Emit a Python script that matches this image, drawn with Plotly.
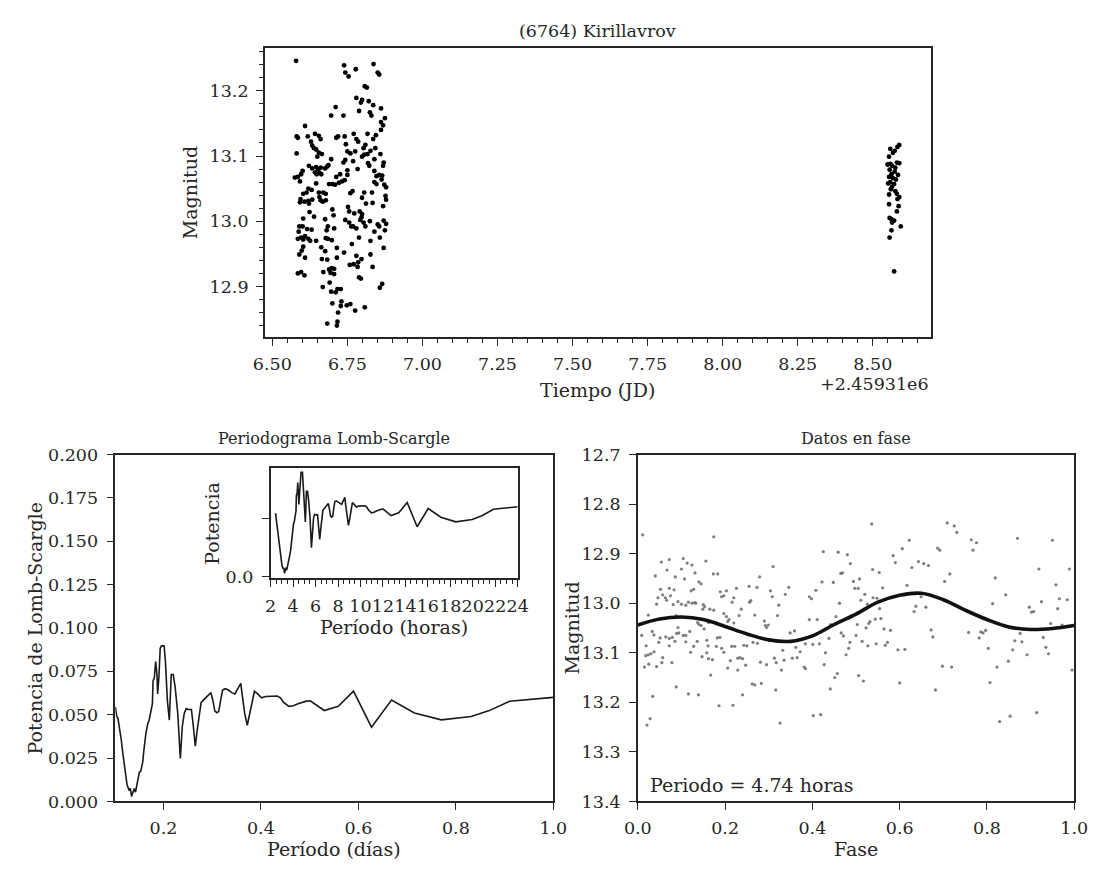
import plotly.graph_objects as go

W, H = 1109, 871
FONT = "DejaVu Serif"
INK = "#262626"

# ---------------- data: light curve (JD - 2459310) ----------------
JD_OFFSET_LABEL = "+2.45931e6"
t_obs = [6.579, 6.739, 6.837, 6.778, 6.743, 6.754, 6.851, 6.856, 6.808, 6.815,
         6.780, 6.799, 6.795, 6.821, 6.836, 6.789, 6.711, 6.862, 6.825, 6.830,
         6.696, 6.737, 6.875, 6.862, 6.869, 6.609, 6.862, 6.581, 6.585, 6.618,
         6.642, 6.655, 6.661, 6.629, 6.633, 6.713, 6.719, 6.741, 6.771, 6.780,
         6.786, 6.817, 6.845, 6.836, 6.745, 6.810, 6.804, 6.843, 6.581, 6.639,
         6.646, 6.655, 6.665, 6.650, 6.776, 6.750, 6.760, 6.806, 6.799, 6.817,
         6.827, 6.860, 6.696, 6.743, 6.737, 6.769, 6.840, 6.819, 6.823, 6.871,
         6.869, 6.622, 6.633, 6.646, 6.652, 6.661, 6.676, 6.683, 6.687, 6.657,
         6.648, 6.642, 6.663, 6.601, 6.596, 6.585, 6.575, 6.592, 6.713, 6.726,
         6.732, 6.722, 6.741, 6.750, 6.750, 6.784, 6.840, 6.847, 6.856, 6.866,
         6.864, 6.840, 6.847, 6.873, 6.879, 6.689, 6.700, 6.709, 6.646, 6.620,
         6.631, 6.614, 6.603, 6.594, 6.592, 6.607, 6.620, 6.633, 6.622, 6.655,
         6.670, 6.678, 6.657, 6.661, 6.668, 6.678, 6.760, 6.767, 6.806, 6.799,
         6.832, 6.812, 6.834, 6.877, 6.879, 6.869, 6.700, 6.704, 6.676, 6.603,
         6.624, 6.639, 6.752, 6.756, 6.743, 6.773, 6.791, 6.799, 6.797, 6.793,
         6.804, 6.825, 6.851, 6.856, 6.871, 6.879, 6.875, 6.840, 6.601, 6.590,
         6.616, 6.631, 6.588, 6.685, 6.681, 6.706, 6.756, 6.763, 6.769, 6.780,
         6.810, 6.585, 6.596, 6.603, 6.609, 6.620, 6.626, 6.646, 6.678, 6.685,
         6.698, 6.603, 6.598, 6.590, 6.609, 6.663, 6.676, 6.715, 6.765, 6.789,
         6.827, 6.858, 6.871, 6.665, 6.683, 6.715, 6.739, 6.780, 6.797, 6.758,
         6.771, 6.786, 6.784, 6.834, 6.827, 6.585, 6.596, 6.607, 6.670, 6.689,
         6.698, 6.706, 6.694, 6.706, 6.789, 6.795, 6.866, 6.858, 6.691, 6.668,
         6.696, 6.711, 6.717, 6.728, 6.700, 6.730, 6.728, 6.748, 6.760, 6.776,
         6.808, 6.719, 6.683, 6.717, 6.715,
         8.588, 8.582, 8.558, 8.573, 8.567, 8.554, 8.549, 8.558, 8.564, 8.580,
         8.588, 8.575, 8.556, 8.573, 8.562, 8.584, 8.554, 8.567, 8.577, 8.558,
         8.551, 8.571, 8.564, 8.560, 8.575, 8.580, 8.554, 8.588, 8.582, 8.554,
         8.586, 8.580, 8.556, 8.562, 8.571, 8.564, 8.593, 8.562, 8.556, 8.571]
m_obs = [13.246, 13.239, 13.241, 13.233, 13.228, 13.222, 13.228, 13.225, 13.207, 13.205,
         13.189, 13.186, 13.182, 13.184, 13.178, 13.169, 13.175, 13.173, 13.167, 13.162,
         13.162, 13.162, 13.158, 13.152, 13.147, 13.146, 13.140, 13.130, 13.128, 13.130,
         13.134, 13.131, 13.126, 13.122, 13.116, 13.128, 13.130, 13.130, 13.134, 13.126,
         13.122, 13.134, 13.132, 13.126, 13.118, 13.117, 13.112, 13.112, 13.104, 13.112,
         13.110, 13.105, 13.103, 13.099, 13.107, 13.107, 13.104, 13.102, 13.099, 13.103,
         13.108, 13.103, 13.095, 13.094, 13.090, 13.092, 13.095, 13.089, 13.085, 13.090,
         13.085, 13.085, 13.081, 13.083, 13.080, 13.082, 13.081, 13.084, 13.086, 13.074,
         13.072, 13.075, 13.072, 13.077, 13.072, 13.068, 13.067, 13.061, 13.068, 13.072,
         13.061, 13.059, 13.063, 13.071, 13.078, 13.080, 13.077, 13.069, 13.071, 13.070,
         13.064, 13.060, 13.057, 13.056, 13.052, 13.057, 13.057, 13.056, 13.058, 13.050,
         13.048, 13.044, 13.042, 13.034, 13.029, 13.030, 13.031, 13.033, 13.027, 13.044,
         13.044, 13.042, 13.037, 13.032, 13.030, 13.032, 13.043, 13.046, 13.044, 13.036,
         13.044, 13.027, 13.028, 13.039, 13.033, 13.023, 13.018, 13.009, 13.003, 13.004,
         13.014, 13.007, 13.022, 13.015, 13.002, 13.012, 13.015, 13.011, 13.006, 13.002,
         12.998, 13.000, 12.995, 12.992, 13.001, 12.996, 12.986, 12.984, 12.992, 12.992,
         12.988, 12.987, 12.984, 12.992, 12.986, 12.989, 12.998, 12.992, 12.992, 12.989,
         12.992, 12.973, 12.975, 12.972, 12.977, 12.973, 12.970, 12.970, 12.974, 12.973,
         12.971, 12.961, 12.955, 12.949, 12.944, 12.960, 12.954, 12.959, 12.965, 12.975,
         12.970, 12.975, 12.959, 12.942, 12.941, 12.944, 12.952, 12.947, 12.942, 12.933,
         12.934, 12.937, 12.930, 12.930, 12.949, 12.920, 12.922, 12.917, 12.922, 12.926,
         12.928, 12.927, 12.921, 12.919, 12.914, 12.912, 12.904, 12.898, 12.906, 12.899,
         12.892, 12.891, 12.896, 12.896, 12.874, 12.877, 12.870, 12.871, 12.873, 12.863,
         12.868, 12.860, 12.843, 12.846, 12.840,
         13.117, 13.114, 13.111, 13.108, 13.105, 13.099, 13.087, 13.088, 13.085, 13.090,
         13.089, 13.082, 13.079, 13.076, 13.072, 13.071, 13.068, 13.066, 13.064, 13.060,
         13.058, 13.057, 13.053, 13.049, 13.046, 13.042, 13.041, 13.037, 13.034, 13.026,
         13.023, 13.015, 13.005, 13.003, 13.001, 12.998, 12.992, 12.986, 12.975, 12.923]

# ---------------- data: Lomb-Scargle periodogram ----------------
period_days = [0.1014, 0.1041, 0.1067, 0.1094, 0.1134, 0.1174, 0.1214, 0.1254, 0.1294, 0.1321,
               0.1347, 0.1374, 0.1401, 0.1427, 0.1467, 0.1507, 0.1534, 0.1574, 0.1601, 0.1641,
               0.1681, 0.1707, 0.1734, 0.1774, 0.1787, 0.1814, 0.1841, 0.1867, 0.1881, 0.1907,
               0.1934, 0.1961, 0.2014, 0.2041, 0.2081, 0.2121, 0.2161, 0.2201, 0.2241, 0.2294,
               0.2347, 0.2387, 0.2427, 0.2467, 0.2507, 0.2574, 0.2614, 0.2654, 0.2694, 0.2734,
               0.2774, 0.2841, 0.2934, 0.2974, 0.3014, 0.3054, 0.3094, 0.3134, 0.3174, 0.3214,
               0.3267, 0.3334, 0.3401, 0.3467, 0.3521, 0.3587, 0.3614, 0.3667, 0.3721, 0.3774,
               0.3827, 0.3867, 0.3934, 0.4014, 0.4094, 0.4201, 0.4334, 0.4401, 0.4467, 0.4574,
               0.4667, 0.4761, 0.4867, 0.4934, 0.5013, 0.5300, 0.5587, 0.5900, 0.6269, 0.6680,
               0.7150, 0.7704, 0.8314, 0.8673, 0.9103, 1.0]
power = [0.0545, 0.0492, 0.0479, 0.0432, 0.0357, 0.0263, 0.0169, 0.0094, 0.0066, 0.0075,
         0.0028, 0.0056, 0.0075, 0.0053, 0.0113, 0.0169, 0.0173, 0.0225, 0.0300, 0.0394,
         0.0451, 0.0469, 0.0507, 0.0563, 0.0695, 0.0714, 0.0807, 0.0732, 0.0620, 0.0714,
         0.0883, 0.0897, 0.0897, 0.0807, 0.0582, 0.0469, 0.0732, 0.0732, 0.0657, 0.0507,
         0.0248, 0.0432, 0.0507, 0.0535, 0.0530, 0.0530, 0.0432, 0.0319, 0.0413, 0.0507,
         0.0571, 0.0590, 0.0620, 0.0627, 0.0582, 0.0522, 0.0511, 0.0518, 0.0582, 0.0642,
         0.0650, 0.0642, 0.0627, 0.0620, 0.0648, 0.0680, 0.0620, 0.0507, 0.0439, 0.0507,
         0.0582, 0.0635, 0.0620, 0.0597, 0.0605, 0.0608, 0.0608, 0.0597, 0.0571, 0.0548,
         0.0552, 0.0563, 0.0575, 0.0578, 0.0580, 0.0524, 0.0548, 0.0636, 0.0428, 0.0585,
         0.0510, 0.0470, 0.0490, 0.0522, 0.0578, 0.0600]
period_hours = [p * 24 for p in period_days]

# ---------------- data: phased light curve ----------------
phase_x = [0.174, 0.011, 0.072, 0.054, 0.104, 0.113, 0.124, 0.156, 0.067, 0.100,
           0.131, 0.040, 0.086, 0.107, 0.140, 0.145, 0.173, 0.183, 0.310, 0.279,
           0.425, 0.459, 0.480, 0.487, 0.465, 0.469, 0.422, 0.494, 0.497, 0.448,
           0.408, 0.393, 0.398, 0.346, 0.338, 0.304, 0.308, 0.273, 0.255, 0.226,
           0.203, 0.189, 0.192, 0.197, 0.220, 0.216, 0.237, 0.259, 0.256, 0.323,
           0.320, 0.268, 0.290, 0.292, 0.299, 0.295, 0.232, 0.197, 0.203, 0.209,
           0.206, 0.220, 0.052, 0.072, 0.083, 0.057, 0.063, 0.046, 0.043, 0.066,
           0.075, 0.081, 0.092, 0.100, 0.110, 0.116, 0.124, 0.130, 0.133, 0.122,
           0.128, 0.150, 0.153, 0.149, 0.165, 0.174, 0.024, 0.088, 0.092, 0.137,
           0.140, 0.145, 0.152, 0.162, 0.179, 0.462, 0.442, 0.454, 0.466, 0.471,
           0.486, 0.483, 0.477, 0.500, 0.393, 0.411, 0.438, 0.430, 0.427, 0.457,
           0.451, 0.441, 0.009, 0.033, 0.037, 0.051, 0.048, 0.064, 0.072, 0.079,
           0.085, 0.089, 0.094, 0.104, 0.110, 0.119, 0.019, 0.018, 0.024, 0.030,
           0.037, 0.057, 0.055, 0.043, 0.025, 0.015, 0.078, 0.072, 0.110, 0.121,
           0.128, 0.136, 0.147, 0.158, 0.161, 0.158, 0.162, 0.171, 0.180, 0.182,
           0.192, 0.197, 0.188, 0.215, 0.222, 0.229, 0.234, 0.212, 0.206, 0.229,
           0.243, 0.250, 0.240, 0.247, 0.264, 0.274, 0.281, 0.295, 0.313, 0.317,
           0.332, 0.335, 0.329, 0.349, 0.359, 0.362, 0.354, 0.365, 0.372, 0.381,
           0.384, 0.384, 0.401, 0.416, 0.167, 0.088, 0.116, 0.139, 0.034, 0.262,
           0.268, 0.283, 0.316, 0.240, 0.186, 0.218, 0.028, 0.021, 0.326, 0.402,
           0.419,
           0.536, 0.709, 0.725, 0.731, 0.622, 0.606, 0.585, 0.590, 0.643, 0.655,
           0.666, 0.628, 0.687, 0.692, 0.764, 0.776, 0.768, 0.870, 0.950, 0.538,
           0.553, 0.508, 0.505, 0.561, 0.617, 0.715, 0.703, 0.819, 0.843, 0.919,
           0.989, 0.958, 0.520, 0.511, 0.526, 0.539, 0.548, 0.554, 0.637, 0.649,
           0.660, 0.633, 0.813, 0.897, 0.925, 0.966, 0.984, 0.962, 0.902, 0.907,
           0.503, 0.532, 0.529, 0.544, 0.557, 0.523, 0.564, 0.579, 0.514, 0.527,
           0.546, 0.567, 0.572, 0.596, 0.612, 0.672, 0.676, 0.758, 0.782, 0.786,
           0.791, 0.797, 0.803, 0.864, 0.876, 0.880, 0.859, 0.892, 0.929, 0.935,
           0.941, 0.946, 0.972, 0.849, 0.823, 0.698, 0.719, 0.506, 0.517, 0.600,
           0.682, 0.807, 0.829, 0.853, 0.914, 0.995]
phase_mag = [12.866, 12.862, 12.912, 12.917, 12.910, 12.919, 12.923, 12.915, 12.933, 12.931,
             12.939, 12.945, 12.947, 12.951, 12.957, 12.961, 12.941, 12.941, 12.926, 12.947,
             12.896, 12.897, 12.902, 12.920, 12.940, 12.939, 12.957, 12.956, 12.970, 12.958,
             12.974, 12.987, 12.991, 12.968, 12.982, 12.975, 12.987, 12.968, 12.966, 12.970,
             12.975, 12.977, 12.987, 12.985, 12.989, 12.998, 13.012, 12.995, 12.998, 13.004,
             13.025, 13.024, 13.036, 13.045, 13.044, 13.049, 13.025, 13.021, 13.027, 13.033,
             13.037, 13.040, 12.972, 12.970, 12.973, 12.983, 12.989, 12.989, 13.002, 12.994,
             12.985, 13.003, 12.997, 13.002, 13.004, 12.998, 13.000, 12.999, 13.000, 12.975,
             12.972, 13.003, 13.007, 13.012, 13.012, 13.014, 13.024, 13.025, 13.049, 13.039,
             13.043, 13.045, 13.052, 13.039, 13.039, 13.000, 13.043, 13.027, 13.060, 13.066,
             13.079, 13.091, 13.104, 13.065, 13.033, 13.033, 13.071, 13.100, 13.124, 13.142,
             13.150, 13.173, 13.065, 13.057, 13.064, 13.070, 13.079, 13.068, 13.071, 13.069,
             13.077, 13.061, 13.060, 13.065, 13.065, 13.057, 13.086, 13.106, 13.104, 13.102,
             13.098, 13.110, 13.120, 13.128, 13.123, 13.129, 13.120, 13.086, 13.078, 13.099,
             13.087, 13.077, 13.108, 13.075, 13.086, 13.100, 13.112, 13.114, 13.087, 13.070,
             13.091, 13.099, 13.069, 13.087, 13.087, 13.111, 13.110, 13.116, 13.131, 13.135,
             13.085, 13.086, 13.112, 13.125, 13.079, 13.081, 13.119, 13.124, 13.111, 13.120,
             13.095, 13.115, 13.135, 13.060, 13.056, 13.089, 13.111, 13.110, 13.098, 13.129,
             13.132, 13.082, 13.083, 13.082, 13.145, 13.169, 13.183, 13.185, 13.188, 13.163,
             13.165, 13.162, 13.175, 13.185, 13.207, 13.206, 13.233, 13.246, 13.242, 13.227,
             13.225,
             12.840, 12.838, 12.844, 12.857, 12.873, 12.890, 12.904, 12.918, 12.916, 12.920,
             12.924, 12.928, 12.889, 12.893, 12.872, 12.878, 12.893, 12.869, 12.873, 12.932,
             12.938, 12.951, 12.970, 12.969, 12.964, 12.941, 12.956, 12.949, 12.983, 12.931,
             12.931, 12.963, 12.982, 12.994, 13.002, 12.989, 12.990, 13.011, 13.006, 12.987,
             13.008, 13.017, 13.001, 13.008, 12.997, 12.991, 12.993, 13.011, 13.018, 13.017,
             13.043, 13.037, 13.041, 13.032, 13.031, 13.050, 13.052, 13.055, 13.077, 13.086,
             13.082, 13.085, 13.079, 13.094, 13.093, 13.054, 13.068, 13.059, 13.070, 13.058,
             13.060, 13.055, 13.091, 13.076, 13.061, 13.078, 13.094, 13.104, 13.069, 13.089,
             13.102, 13.041, 13.044, 13.117, 13.129, 13.127, 13.129, 13.146, 13.157, 13.161,
             13.175, 13.160, 13.239, 13.228, 13.221, 13.135]

# fitted model curve
fit_phase = [0.00, 0.05, 0.10, 0.15, 0.20, 0.25, 0.30, 0.35, 0.40, 0.45, 0.50,
             0.55, 0.60, 0.65, 0.70, 0.75, 0.80, 0.85, 0.90, 0.95, 1.00]
fit_mag = [13.044, 13.032, 13.028, 13.033, 13.047, 13.062, 13.074, 13.077, 13.066, 13.043, 13.022,
           12.998, 12.984, 12.980, 12.993, 13.014, 13.033, 13.048, 13.053, 13.051, 13.045]

period_text = "Periodo = 4.74 horas"

# ---------------- layout helpers (pixel -> paper) ----------------
def px(x):
    return x / W

def py(y):
    return 1 - y / H

TICK_SIZE = 17.5

def axis_style(**kw):
    d = dict(showline=True, linecolor=INK, linewidth=1.5, mirror=True,
             ticks="outside", ticklen=7, tickwidth=1.3, tickcolor=INK,
             showgrid=False, zeroline=False,
             tickfont=dict(family=FONT, size=TICK_SIZE, color=INK))
    d.update(kw)
    return d

fig = go.Figure()

fig.add_trace(go.Scatter(x=t_obs, y=m_obs, mode="markers",
                         marker=dict(size=4.8, color="black"),
                         xaxis="x", yaxis="y", hoverinfo="skip"))
fig.add_trace(go.Scatter(x=period_days, y=power, mode="lines",
                         line=dict(color="#1a1a1a", width=1.6),
                         xaxis="x2", yaxis="y2", hoverinfo="skip"))
fig.add_trace(go.Scatter(x=phase_x, y=phase_mag, mode="markers",
                         marker=dict(size=3.2, color="rgba(105,105,105,0.85)"),
                         xaxis="x3", yaxis="y3", hoverinfo="skip"))
fig.add_trace(go.Scatter(x=fit_phase, y=fit_mag, mode="lines",
                         line=dict(color="#111111", width=3.6, shape="spline", smoothing=1.0),
                         xaxis="x3", yaxis="y3", hoverinfo="skip"))
fig.add_trace(go.Scatter(x=period_hours, y=power, mode="lines",
                         line=dict(color="#1a1a1a", width=1.6),
                         xaxis="x4", yaxis="y4", hoverinfo="skip"))

minor_style = dict(ticks="outside", ticklen=4, tickwidth=1, tickcolor=INK)

fig.update_layout(
    width=W, height=H, margin=dict(l=0, r=0, t=0, b=0),
    paper_bgcolor="white", plot_bgcolor="white", showlegend=False,
    font=dict(family=FONT, color=INK),
    # top: light curve
    xaxis=axis_style(domain=[px(257.3), px(940.7)], anchor="y",
                     range=[6.475, 8.6936], tick0=6.5, dtick=0.25, tickformat=".2f",
                     ticklabelstandoff=3, tickangle=0,
                     minor=dict(dtick=0.05, tick0=6.5, **minor_style)),
    yaxis=axis_style(domain=[py(335), py(39.3)], anchor="x",
                     range=[12.822, 13.265], tick0=12.9, dtick=0.1, tickformat=".1f",
                     ticklabelstandoff=4,
                     minor=dict(dtick=0.02, tick0=12.9, **minor_style)),
    # bottom-left: periodogram
    xaxis2=axis_style(domain=[px(104), px(553.3)], anchor="y2",
                      range=[0.1014, 1.0], tickvals=[0.2, 0.4, 0.6, 0.8, 1.0], tickformat=".1f",
                      ticklabelstandoff=3, tickangle=0),
    yaxis2=axis_style(domain=[py(810), py(455)], anchor="x2",
                      range=[0, 0.2], tick0=0, dtick=0.025, tickformat=".3f",
                      ticklabelstandoff=5),
    # bottom-right: phased data
    xaxis3=axis_style(domain=[px(640), px(1087.7)], anchor="y3",
                      range=[0, 1], tick0=0, dtick=0.2, tickformat=".1f",
                      ticklabelstandoff=3, tickangle=0),
    yaxis3=axis_style(domain=[py(810), py(455)], anchor="x3",
                      range=[13.4, 12.7], tick0=12.7, dtick=0.1, tickformat=".1f",
                      ticklabelstandoff=5),
    # inset
    xaxis4=axis_style(domain=[px(263.3), px(516.7)], anchor="y4",
                      range=[2, 24], tick0=2, dtick=2, ticklabelstandoff=4, tickangle=0,
                      minor=dict(dtick=0.5, tick0=2, **minor_style)),
    yaxis4=axis_style(domain=[py(581.7), py(468.3)], anchor="x4",
                      range=[-0.0016, 0.0937], tickvals=[0, 0.05], ticktext=["0.0", ""],
                      ticklabelstandoff=5),
)

def label(text, x, y, size=19, angle=0, xanchor="center", yanchor="middle"):
    fig.add_annotation(text=text, x=px(x), y=py(y), xref="paper", yref="paper",
                       showarrow=False, textangle=angle, xanchor=xanchor, yanchor=yanchor,
                       font=dict(family=FONT, size=size, color=INK))

label("(6764) Kirillavrov", 599, 22, size=17.5)
label("Tiempo (JD)", 599, 389)
label(JD_OFFSET_LABEL, 940.7, 383, size=TICK_SIZE, xanchor="right")
label("Magnitud", 180, 187, angle=-90)

label("Periodograma Lomb-Scargle", 328.7, 439, size=16)
label("Período (días)", 328.7, 859)
label("Potencia de Lomb-Scargle", 22, 632.5, angle=-90)

label("Datos en fase", 864, 439, size=16)
label("Fase", 864, 859)
label("Magnitud", 572, 632.5, angle=-90)
label(period_text, 650, 793, xanchor="left")

label("Potencia", 203, 525, angle=-90)
label("Período (horas)", 390, 632)

fig.write_html("out.html")
